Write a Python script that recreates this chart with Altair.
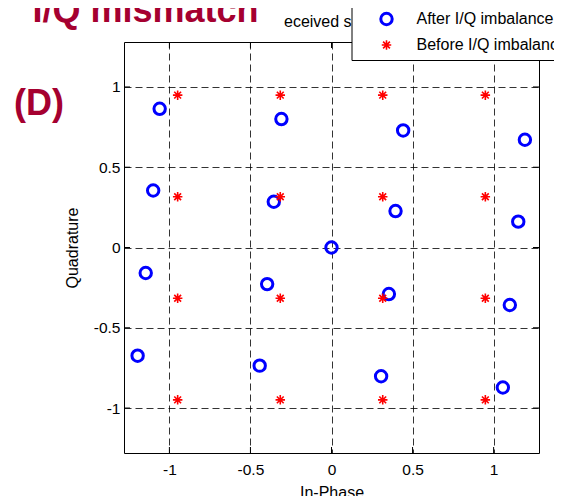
import altair as alt
import pandas as pd

# ---- data ----
after_i = [-1.06, -0.309, 0.442, 1.193,
           -1.10, -0.356, 0.395, 1.152,
           0.0,
           -1.146, -0.397, 0.354, 1.10,
           -1.196, -0.443, 0.306, 1.057]
after_q = [0.864, 0.80, 0.729, 0.671,
           0.355, 0.285, 0.227, 0.161,
           0.0,
           -0.159, -0.228, -0.29, -0.358,
           -0.674, -0.736, -0.802, -0.872]

before_i = [-0.949, -0.316, 0.316, 0.949,
            -0.949, -0.316, 0.316, 0.949,
            -0.949, -0.316, 0.316, 0.949,
            -0.949, -0.316, 0.316, 0.949]
before_q = [0.949, 0.949, 0.949, 0.949,
            0.316, 0.316, 0.316, 0.316,
            -0.316, -0.316, -0.316, -0.316,
            -0.949, -0.949, -0.949, -0.949]

series_names = ["After I/Q imbalance", "Before I/Q imbalance"]
tick_values = [-1, -0.5, 0, 0.5, 1]
axis_domain = [-1.28, 1.28]

title_text = "I/Q mismatch"
panel_label = "(D)"
hidden_title = "eceived signal"
x_title = "In-Phase"
y_title = "Quadrature"

# ---- build tables ----
pts = pd.DataFrame({
    "I": after_i + before_i,
    "Q": after_q + before_q,
    "series": [series_names[0]] * len(after_i) + [series_names[1]] * len(before_i),
})
ticks = pd.DataFrame({"v": tick_values})

W, H = 415, 411
FONT = "Liberation Sans"
DARKRED = "#A50030"
ASTERISK = "M-1,0L1,0M0,-1L0,1M-0.72,-0.72L0.72,0.72M-0.72,0.72L0.72,-0.72"

xs = alt.Scale(domain=axis_domain, nice=False, zero=False)
ys = alt.Scale(domain=axis_domain, nice=False, zero=False)

leg = alt.Legend(title=None, orient="none", legendX=227.5, legendY=-38)

points = alt.Chart(pts).mark_point(filled=False, opacity=1).encode(
    x=alt.X("I:Q", scale=xs, title=x_title,
            axis=alt.Axis(values=tick_values, labelExpr="'' + datum.value",
                          grid=True, ticks=False, tickSize=0, domain=False,
                          labelPadding=9, titlePadding=7)),
    y=alt.Y("Q:Q", scale=ys, title=y_title,
            axis=alt.Axis(values=tick_values, labelExpr="'' + datum.value",
                          grid=True, ticks=False, tickSize=0, domain=False,
                          labelPadding=4, titlePadding=13)),
    color=alt.Color("series:N", scale=alt.Scale(domain=series_names, range=["#0000FF", "#FF0000"]), legend=leg),
    shape=alt.Shape("series:N", scale=alt.Scale(domain=series_names, range=["circle", ASTERISK]), legend=leg),
    size=alt.Size("series:N", scale=alt.Scale(domain=series_names, range=[130, 90]), legend=leg),
    strokeWidth=alt.StrokeWidth("series:N", scale=alt.Scale(domain=series_names, range=[3.0, 1.6]), legend=leg),
)

tick_base = alt.Chart(ticks).mark_rule(color="black", strokeWidth=1)
tick_bottom = tick_base.encode(x=alt.X("v:Q", scale=xs), y=alt.value(H), y2=alt.value(H - 6))
tick_top = tick_base.encode(x=alt.X("v:Q", scale=xs), y=alt.value(0), y2=alt.value(6))
tick_left = tick_base.encode(y=alt.Y("v:Q", scale=ys), x=alt.value(0), x2=alt.value(6))
tick_right = tick_base.encode(y=alt.Y("v:Q", scale=ys), x=alt.value(W), x2=alt.value(W - 6))

t1 = alt.Chart(pd.DataFrame({"t": [title_text]})).mark_text(
    align="left", baseline="alphabetic", fontSize=36, fontWeight="bold", color=DARKRED, font=FONT
).encode(x=alt.value(-91.5), y=alt.value(-20), text="t:N")
t2 = alt.Chart(pd.DataFrame({"t": [panel_label]})).mark_text(
    align="left", baseline="alphabetic", fontSize=36, fontWeight="bold", color=DARKRED, font=FONT
).encode(x=alt.value(-110), y=alt.value(73), text="t:N")
t3 = alt.Chart(pd.DataFrame({"t": [hidden_title]})).mark_text(
    align="left", baseline="alphabetic", fontSize=16, color="black", font=FONT
).encode(x=alt.value(160), y=alt.value(-14.7), text="t:N")

chart = alt.layer(
    points, tick_bottom, tick_top, tick_left, tick_right, t1, t2, t3
).resolve_scale(x="shared", y="shared").properties(
    width=W, height=H,
    autosize=alt.AutoSizeParams(type="none"),
    padding={"left": 116, "top": 34, "right": 15, "bottom": 43},
).configure(
    font=FONT,
).configure_view(
    stroke="black", strokeWidth=1, fill="white"
).configure_axis(
    labelFont=FONT, labelFontSize=15.5, labelColor="black",
    titleFont=FONT, titleFontSize=16, titleFontWeight="normal", titleColor="black",
    gridColor="#000000", gridOpacity=0.8, gridDash=[7, 4], gridWidth=1,
).configure_legend(
    fillColor="white", strokeColor="black", padding=7, cornerRadius=0,
    labelFont=FONT, labelFontSize=16, labelColor="black", labelLimit=300,
    symbolOffset=20, labelOffset=22, rowPadding=6,
)

chart.save("out.html", embed_options={"renderer": "svg", "actions": False})
